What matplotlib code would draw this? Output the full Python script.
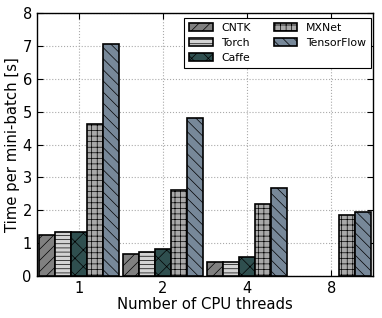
import matplotlib
matplotlib.use("Agg")
import matplotlib.pyplot as plt
import numpy as np

threads = ["1", "2", "4", "8"]
frameworks = ["CNTK", "Torch", "Caffe", "MXNet", "TensorFlow"]
cntk = [1.23, 0.65, 0.43, 0]
torch = [1.34, 0.72, 0.42, 0]
caffe = [1.33, 0.81, 0.58, 0]
mxnet = [4.63, 2.61, 2.18, 1.84]
tensorflow = [7.06, 4.80, 2.66, 1.94]

values = [cntk, torch, caffe, mxnet, tensorflow]
colors = ["#808080", "#d3d3d3", "#2f4f4f", "#a9a9a9", "#778899"]
hatches = ["///", "----", "xx", "+++", "\\\\\\"]

plt.rcParams['hatch.linewidth'] = 0.5
fig = plt.figure(figsize=(3.82, 3.18), dpi=100)
ax = fig.add_axes([0.0961, 0.133, 0.881, 0.825])

x = np.arange(len(threads))
w = 0.19
for i, (name, vals) in enumerate(zip(frameworks, values)):
    v = np.array(vals, dtype=float)
    v[v == 0] = np.nan
    ax.bar(x + (i - 2) * w, v, w, color=colors[i], hatch=hatches[i],
           edgecolor="black", linewidth=1.2, label=name, zorder=3)

ax.set_xlim(-0.5, 3.5)
ax.set_ylim(0, 8)
ax.set_xticks(x)
ax.set_xticklabels(threads)
ax.set_yticks(range(0, 9))
ax.tick_params(direction="in", top=True, right=True, labelsize=10.5, length=4, pad=3.5)
ax.grid(True, linestyle=":", color="#aaaaaa", linewidth=0.8, zorder=0)
ax.set_axisbelow(True)
ax.set_xlabel("Number of CPU threads", fontsize=10.7, labelpad=1)
ax.set_ylabel("Time per mini-batch [s]", fontsize=10.7, labelpad=2)
for s in ax.spines.values():
    s.set_linewidth(1.0)
leg = ax.legend(ncol=2, loc="upper right", fontsize=7.8, fancybox=False,
                edgecolor="black", framealpha=1, handlelength=2.2,
                handleheight=0.78, handletextpad=0.8, columnspacing=2.1,
                labelspacing=0.45, borderpad=0.45, borderaxespad=0,
                bbox_to_anchor=(0.993, 0.982))
leg.get_frame().set_linewidth(0.8)

fig.savefig("out.png", dpi=100)
